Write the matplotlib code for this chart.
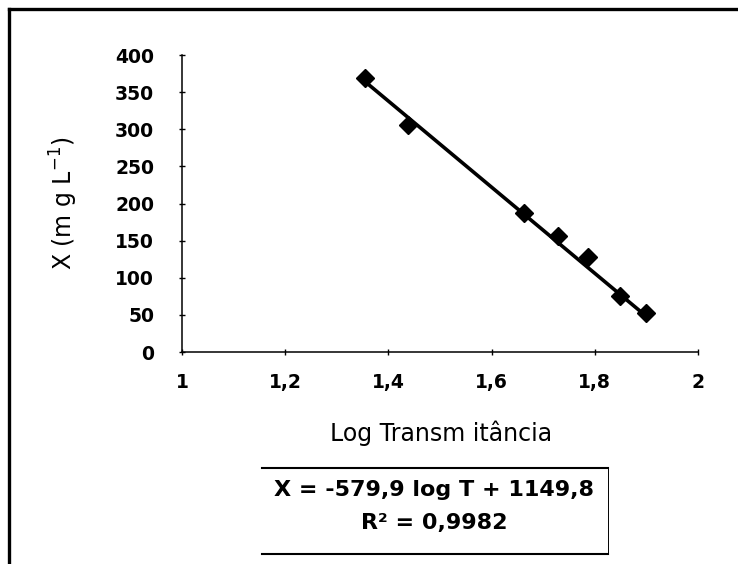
import numpy as np
import matplotlib
matplotlib.use('Agg')
from matplotlib import pyplot as plt
from matplotlib.lines import Line2D

# curva de calibração: log da transmitância x concentração
log_t = [1.355, 1.438, 1.663, 1.729, 1.787, 1.849, 1.899]
conc = [369, 306, 187, 156, 128, 75, 52]
slope = -579.9
intercept = 1149.8
r2 = 0.9982
xticks = [1, 1.2, 1.4, 1.6, 1.8, 2]
xtick_labels = ['1', '1,2', '1,4', '1,6', '1,8', '2']
yticks = [0, 50, 100, 150, 200, 250, 300, 350, 400]

W, H = 738, 564


def fx(x):
	return x / W


def fy(y):
	return 1 - y / H


plt.rcParams['font.family'] = ['DejaVu Sans']
fig = plt.figure(figsize=(W / 100, H / 100), dpi=100)
ax = fig.add_axes([fx(182), fy(352), (698 - 182) / W, (352 - 55) / H])

# reta de regressão
xl = np.array([min(log_t), max(log_t)])
ax.plot(xl, slope * xl + intercept, color='black', lw=2.6, solid_capstyle='round', zorder=2)
ax.plot(log_t, conc, ls='none', marker='D', ms=9.5, color='black', zorder=3)

ax.set_xlim(1, 2)
ax.set_ylim(0, 400)
ax.set_xticks(xticks)
ax.set_xticklabels(xtick_labels)
ax.set_yticks(yticks)
for s in ['top', 'right']:
	ax.spines[s].set_visible(False)
for s in ['left', 'bottom']:
	ax.spines[s].set_linewidth(1.1)
ax.tick_params(axis='both', direction='inout', length=4, width=1, labelsize=13.5)
ax.tick_params(axis='x', pad=13)
ax.tick_params(axis='y', pad=18)
for lab in ax.get_xticklabels() + ax.get_yticklabels():
	lab.set_fontweight('bold')

fig.text(fx(441), fy(433), 'Log Transm itância', ha='center', va='center', fontsize=17)
fig.text(fx(64), fy(203), 'X (m g L$^{-1}$)', ha='center', va='center', rotation=90, fontsize=17)

# caixa com a equação
eq = 'X = %s log T + %s' % (('%.1f' % slope).replace('.', ','), ('%.1f' % intercept).replace('.', ','))
fig.text(fx(434), fy(490), eq, ha='center', va='center', fontsize=16, fontweight='bold')
fig.text(fx(434), fy(523), 'R² = ' + ('%.4f' % r2).replace('.', ','), ha='center', va='center',
		 fontsize=16, fontweight='bold')
fig.add_artist(Line2D([fx(262), fx(608)], [fy(468), fy(468)], color='black', lw=1.5))
fig.add_artist(Line2D([fx(262), fx(608)], [fy(554), fy(554)], color='black', lw=1.5))
fig.add_artist(Line2D([fx(608), fx(608)], [fy(468), fy(554)], color='black', lw=0.7))

# moldura externa
fig.add_artist(Line2D([fx(9), fx(9)], [fy(9), 0], color='black', lw=2.4))
fig.add_artist(Line2D([fx(9), 1], [fy(9), fy(9)], color='black', lw=2.4))

fig.savefig('out.png', dpi=100)
